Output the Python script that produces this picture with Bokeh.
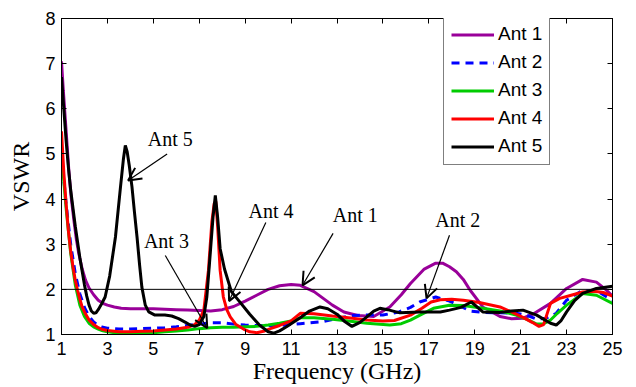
from bokeh.plotting import figure
from bokeh.models import (Range1d, FixedTicker, LinearAxis, Span, Label, Arrow,
                          OpenHead, Legend, LegendItem)
from bokeh.embed import file_html
from bokeh.resources import INLINE

# ---------------- data ----------------
ant1_f = [1.0, 1.08, 1.17, 1.25, 1.32, 1.42, 1.54, 1.65, 1.75, 1.9, 2.05, 2.2, 2.4, 2.6, 2.8, 3.0,
          3.3, 3.6, 4.0, 4.5, 5.0, 5.5, 6.0, 6.5, 7.0, 7.5, 8.0, 8.5, 9.0, 9.5, 10.0, 10.5, 11.0,
          11.4, 12.0, 12.8, 13.3, 13.9, 14.6, 15.3, 15.8, 16.2, 16.8, 17.3, 17.6, 17.9, 18.2,
          18.5, 18.8, 19.35, 20.1, 20.6, 21.1, 21.6, 22.3, 23.0, 23.7, 24.3, 24.7, 25.0]
ant1_v = [7.05, 6.4, 5.74, 5.15, 4.63, 4.05, 3.53, 3.1, 2.8, 2.45, 2.2, 2.03, 1.88, 1.76, 1.69, 1.65,
          1.61, 1.58, 1.57, 1.57, 1.57, 1.56, 1.55, 1.54, 1.53, 1.52, 1.55, 1.62, 1.74, 1.87, 2.0,
          2.08, 2.11, 2.09, 1.95, 1.65, 1.5, 1.42, 1.4, 1.61, 1.88, 2.13, 2.45, 2.58, 2.58, 2.5,
          2.39, 2.22, 1.98, 1.61, 1.4, 1.35, 1.36, 1.47, 1.69, 2.02, 2.22, 2.16, 2.0, 1.85]

ant2_f = [1.0, 1.2, 1.4, 1.6, 1.8, 2.0, 2.2, 2.4, 2.6, 2.8, 3.0, 3.5, 4.0, 4.5, 5.0, 5.5, 6.0,
          6.5, 7.0, 7.5, 8.0, 8.5, 9.0, 9.5, 10.0, 10.5, 11.0, 11.4, 12.3, 13.0, 13.6, 14.3, 15.0,
          15.7, 16.2, 16.6, 17.3, 17.9, 18.4, 18.8, 19.35, 20.1, 20.8, 21.3, 21.7, 22.1, 22.55,
          23.0, 23.7, 24.4, 25.0]
ant2_v = [5.0, 3.9, 3.0, 2.35, 1.9, 1.6, 1.4, 1.28, 1.2, 1.16, 1.14, 1.12, 1.12, 1.13, 1.14, 1.15,
          1.17, 1.2, 1.23, 1.26, 1.26, 1.23, 1.21, 1.2, 1.2, 1.2, 1.22, 1.24, 1.28, 1.35, 1.42, 1.43,
          1.43, 1.5, 1.6, 1.72, 1.83, 1.74, 1.62, 1.52, 1.49, 1.48, 1.47, 1.42, 1.34, 1.36, 1.47,
          1.76, 1.98, 1.94, 1.76]

ant3_f = [1.0, 1.2, 1.4, 1.6, 1.8, 2.0, 2.2, 2.4, 2.6, 2.8, 3.0, 3.5, 4.0, 4.5, 5.0, 5.5, 6.0,
          6.5, 7.0, 7.5, 8.0, 8.5, 9.0, 9.5, 10.0, 10.5, 11.0, 11.4, 12.0, 12.8, 13.5, 14.3, 15.3,
          15.8, 16.2, 16.7, 17.2, 17.9, 18.5, 19.35, 20.1, 20.8, 21.3, 21.7, 22.0, 22.3, 22.6,
          23.0, 23.7, 24.3, 25.0]
ant3_v = [5.0, 3.8, 2.8, 2.1, 1.65, 1.4, 1.25, 1.17, 1.12, 1.08, 1.06, 1.03, 1.02, 1.03, 1.04,
          1.06, 1.08, 1.1, 1.13, 1.15, 1.16, 1.16, 1.17, 1.18, 1.21, 1.25, 1.3, 1.37, 1.37, 1.34,
          1.3, 1.25, 1.21, 1.24, 1.32, 1.45, 1.58, 1.65, 1.64, 1.58, 1.52, 1.43, 1.33, 1.23, 1.24,
          1.32, 1.47, 1.65, 1.91, 1.87, 1.69]

ant4_f = [1.0, 1.1, 1.2, 1.3, 1.4, 1.5, 1.6, 1.7, 1.8, 1.9, 2.0, 2.2, 2.4, 2.6, 2.8, 3.0, 3.5,
          4.0, 4.5, 5.0, 5.5, 6.0, 6.5, 6.8, 7.0, 7.2, 7.4, 7.55, 7.65, 7.72, 7.8, 7.91, 8.05,
          8.2, 8.35, 8.6, 8.93, 9.2, 9.5, 9.8, 10.1, 10.5, 11.0, 11.4, 12.0, 12.8, 13.5, 14.3,
          15.0, 15.5, 16.2, 16.7, 17.1, 17.5, 18.0, 18.5, 19.2, 20.1, 20.6, 21.1, 21.5, 21.8,
          22.0, 22.3, 22.7, 23.2, 23.7, 24.2, 24.6, 25.0]
ant4_v = [5.5, 4.6, 3.9, 3.3, 2.85, 2.5, 2.2, 1.98, 1.78, 1.61, 1.5, 1.32, 1.22, 1.15, 1.11,
          1.09, 1.06, 1.06, 1.07, 1.08, 1.1, 1.12, 1.16, 1.22, 1.32, 1.54, 2.42, 3.5, 3.9, 3.95,
          3.4, 2.42, 1.83, 1.55, 1.39, 1.22, 1.12, 1.06, 1.04, 1.07, 1.13, 1.2, 1.3, 1.47, 1.46,
          1.41, 1.37, 1.32, 1.3, 1.31, 1.43, 1.58, 1.72, 1.77, 1.78, 1.76, 1.71, 1.61, 1.5,
          1.38, 1.27, 1.18, 1.22, 1.69, 1.8, 1.87, 1.94, 1.96, 1.93, 1.85]

ant5_f = [1.0, 1.1, 1.2, 1.3, 1.4, 1.5, 1.6, 1.7, 1.8, 1.9, 2.0, 2.1, 2.2, 2.3, 2.4, 2.5, 2.6,
          2.75, 2.9, 3.1, 3.35, 3.57, 3.7, 3.78, 3.86, 3.95, 4.07, 4.18, 4.29, 4.4, 4.5, 4.65,
          4.8, 5.07, 5.5, 5.8, 6.1, 6.4, 6.6, 6.8, 7.0, 7.2, 7.33, 7.48, 7.6, 7.7, 7.8, 7.91, 8.1,
          8.4, 8.8, 9.2, 9.6, 10.0, 10.25, 10.5, 10.8, 11.1, 11.4, 11.8, 12.26, 12.6, 13.0, 13.35,
          13.65, 14.0, 14.3, 14.6, 14.87, 15.2, 15.74, 16.6, 17.5, 17.9, 18.4, 18.85, 19.35,
          20.1, 20.6, 21.1, 21.7, 22.3, 22.55, 22.75, 23.0, 23.35, 23.7, 24.3, 25.0]
ant5_v = [6.7, 6.0, 5.3, 4.7, 4.2, 3.8, 3.4, 3.05, 2.7, 2.4, 2.1, 1.85, 1.65, 1.52, 1.47, 1.48,
          1.55, 1.68, 1.83, 2.3, 3.16, 4.27, 4.9, 5.19, 5.05, 4.75, 4.27, 3.7, 3.16, 2.55, 2.05,
          1.65, 1.5, 1.43, 1.43, 1.41, 1.35, 1.27, 1.21, 1.18, 1.22, 1.4, 1.83, 2.8, 3.6, 4.08,
          3.6, 2.9, 2.45, 1.95, 1.7, 1.45, 1.22, 1.06, 1.03, 1.08, 1.17, 1.27, 1.37, 1.52, 1.61,
          1.57, 1.45, 1.28, 1.18, 1.27, 1.39, 1.52, 1.58, 1.55, 1.48, 1.5, 1.5, 1.54, 1.6, 1.72,
          1.5, 1.49, 1.52, 1.54, 1.43, 1.25, 1.21, 1.3, 1.5, 1.75, 1.91, 2.02, 2.07]

series_names = ["Ant 1", "Ant 2", "Ant 3", "Ant 4", "Ant 5"]
series_colors = ["#990099", "#0000ff", "#00cc00", "#ff0000", "#000000"]

x_ticks = [1, 3, 5, 7, 9, 11, 13, 15, 17, 19, 21, 23, 25]
y_ticks = [1, 2, 3, 4, 5, 6, 7, 8]

# annotations: label text, label position, arrow tail, arrow head (data units)
ann_text = ["Ant 5", "Ant 3", "Ant 4", "Ant 1", "Ant 2"]
ann_label_xy = [(5.74, 5.32), (5.57, 3.08), (10.13, 3.73), (13.8, 3.64), (18.26, 3.53)]
ann_tail_xy = [(5.6, 5.0), (5.52, 2.75), (9.9, 3.48), (12.83, 3.24), (17.9, 3.2)]
ann_head_xy = [(3.9, 4.41), (7.35, 1.14), (8.3, 1.74), (11.5, 2.09), (16.9, 1.8)]

# ---------------- figure ----------------
p = figure(width=636, height=387, output_backend="svg", toolbar_location=None,
           x_range=Range1d(1, 25), y_range=Range1d(1, 8),
           min_border_left=61, min_border_right=24, min_border_top=18, min_border_bottom=53)
p.grid.visible = False
p.outline_line_color = "black"
p.outline_line_width = 1
p.background_fill_color = "white"
p.border_fill_color = "white"

tick_font = "Liberation Sans"
lab_font = "Liberation Serif"

for ax in (p.xaxis[0], p.yaxis[0]):
    ax.major_tick_in = 5
    ax.major_tick_out = 0
    ax.minor_tick_line_color = None
    ax.major_label_text_font = tick_font
    ax.major_label_text_font_size = "18px"
    ax.major_label_text_color = "black"
    ax.axis_label_text_font = lab_font
    ax.axis_label_text_font_style = "normal"
    ax.axis_label_text_font_size = "24px"
    ax.axis_label_text_color = "black"
    ax.axis_line_color = "black"
    ax.major_tick_line_color = "black"

p.xaxis[0].ticker = FixedTicker(ticks=x_ticks)
p.yaxis[0].ticker = FixedTicker(ticks=y_ticks)
p.xaxis[0].axis_label = "Frequency (GHz)"
p.yaxis[0].axis_label = "VSWR"
p.xaxis[0].major_label_standoff = 7
p.yaxis[0].major_label_standoff = 6
p.xaxis[0].axis_label_standoff = 0
p.yaxis[0].axis_label_standoff = 8

# mirrored ticks on top and right (no labels drawn)
top_ax = LinearAxis(ticker=FixedTicker(ticks=x_ticks), major_tick_in=5, major_tick_out=0,
                    minor_tick_line_color=None, major_label_text_font_size="1px",
                    major_label_text_color=None, major_label_standoff=0,
                    axis_line_color="black")
right_ax = LinearAxis(ticker=FixedTicker(ticks=y_ticks), major_tick_in=5, major_tick_out=0,
                      minor_tick_line_color=None, major_label_text_font_size="1px",
                      major_label_text_color=None, major_label_standoff=0,
                      axis_line_color="black")
p.add_layout(top_ax, "above")
p.add_layout(right_ax, "right")

# VSWR = 2 reference line
p.add_layout(Span(location=2, dimension="width", line_color="black", line_width=1))

fs = [ant1_f, ant2_f, ant3_f, ant4_f, ant5_f]
vs = [ant1_v, ant2_v, ant3_v, ant4_v, ant5_v]
renderers = []
for i in range(5):
    kw = dict(line_color=series_colors[i], line_width=3)
    if i == 1:
        kw["line_dash"] = "8 6"
    r = p.line(fs[i], vs[i], **kw)
    renderers.append(r)

legend = Legend(items=[LegendItem(label=series_names[i], renderers=[renderers[i]]) for i in range(5)],
                location=(382, 169), orientation="vertical",
                label_text_font=tick_font, label_text_font_size="19px",
                label_text_color="black",
                glyph_width=43, glyph_height=21, label_height=21, label_standoff=4,
                spacing=6, padding=7, margin=0,
                border_line_color="black", border_line_width=1,
                background_fill_color="white", background_fill_alpha=1)
p.add_layout(legend)

for t, (lx, ly), (tx, ty), (hx, hy) in zip(ann_text, ann_label_xy, ann_tail_xy, ann_head_xy):
    p.add_layout(Arrow(x_start=tx, y_start=ty, x_end=hx, y_end=hy, line_color="black",
                       line_width=1.2,
                       end=OpenHead(size=13, line_width=2, line_color="black")))
    p.add_layout(Label(x=lx, y=ly, text=t, text_font=lab_font, text_font_size="20px",
                       text_align="center", text_baseline="middle", text_color="black"))

open("out.html", "w").write(file_html(p, INLINE))
